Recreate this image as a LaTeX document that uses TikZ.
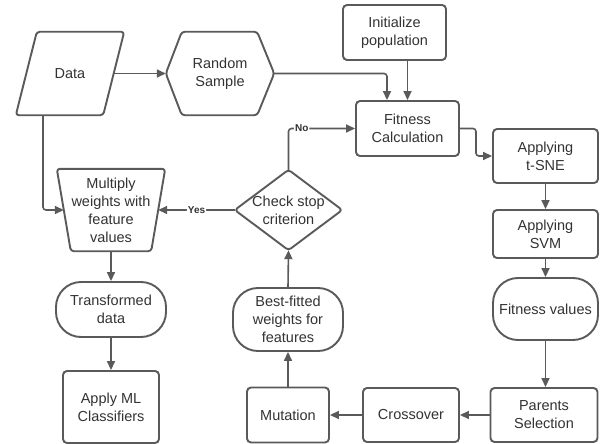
\documentclass[tikz,border=0pt]{standalone}
\usepackage{fontspec}
\setmainfont{Liberation Sans}
\usetikzlibrary{arrows.meta}
\definecolor{ln}{HTML}{5A5A5A}
\definecolor{tx}{HTML}{333333}
\tikzset{
  base/.style={inner sep=0pt, align=center, text=tx, font=\fontsize{14.5}{18}\selectfont},
  box/.style={base, draw=ln, line width=1.9pt, rounded corners=4pt, rectangle},
  stad/.style={base, draw=ln, line width=1.9pt, rounded corners=25pt, rectangle},
  ghost/.style={base, draw=none, rectangle},
  outline/.style={draw=ln, line width=1.9pt, rounded corners=3pt, line join=round},
  conn/.style={draw=ln, line width=1.6pt, rounded corners=3pt, -{Triangle[length=9pt,width=8pt]}},
  lbl/.style={fill=white, text=tx, inner sep=1pt, font=\bfseries\fontsize{10}{12}\selectfont}
}
\begin{document}
\begin{tikzpicture}[x=1pt,y=-1pt]
\useasboundingbox (0,0) rectangle (600,444);
\fill[white] (0,0) rectangle (600,444);

% shapes drawn manually
\node[ghost, minimum width=87pt, minimum height=83pt] (data) at (70,73.5) {Data};
\draw[outline] ([xshift=10.5pt]data.north west) -- ([xshift=10.5pt]data.north east)
  -- ([xshift=-10.5pt]data.south east) -- ([xshift=-10.5pt]data.south west) -- cycle;

\node[ghost, minimum width=108pt, minimum height=83pt] (rs) at (220,73.5) {Random\\Sample};
\draw[outline] (rs.west) -- ([xshift=16pt]rs.north west) -- ([xshift=-17pt]rs.north east)
  -- (rs.east) -- ([xshift=-17pt]rs.south east) -- ([xshift=16pt]rs.south west) -- cycle;

\node[ghost, minimum width=108pt, minimum height=82pt] (mw) at (111,210) {Multiply\\weights with\\feature\\values};
\draw[outline] (mw.north west) -- (mw.north east) -- ([xshift=-14pt]mw.south east)
  -- ([xshift=14pt]mw.south west) -- cycle;

\node[ghost, minimum width=107pt, minimum height=80pt] (cs) at (288.5,210) {Check stop\\criterion};
\draw[outline] (cs.north) -- (cs.east) -- (cs.south) -- (cs.west) -- cycle;

% boxes
\node[box, minimum width=103pt, minimum height=55pt] (init) at (394.5,32.5) {Initialize\\population};
\node[box, minimum width=103pt, minimum height=55pt] (fit) at (407.5,128.5) {Fitness\\Calculation};
\node[box, minimum width=105pt, minimum height=54pt] (tsne) at (545.5,156) {Applying\\t-SNE};
\node[box, minimum width=105pt, minimum height=48pt] (svm) at (545.5,234) {Applying\\SVM};
\node[stad, minimum width=105pt, minimum height=62pt] (fv) at (545.5,309) {Fitness values};
\node[box, minimum width=107pt, minimum height=54pt] (ps) at (544,415) {Parents\\Selection};
\node[box, minimum width=96pt, minimum height=54pt] (co) at (411,415) {Crossover};
\node[box, minimum width=82pt, minimum height=55pt] (mu) at (288,415) {Mutation};
\node[stad, minimum width=110pt, minimum height=63pt] (bf) at (288,319.5) {Best-fitted\\weights for\\features};
\node[stad, minimum width=110pt, minimum height=55pt] (td) at (111,309.5) {Transformed\\data};
\node[box, minimum width=96pt, minimum height=72pt] (ml) at (111,407) {Apply ML\\Classifiers};

% helper coordinates
\coordinate (datab) at ([xshift=-27pt]data.south);
\coordinate (mwl) at ([xshift=7pt]mw.west);
\coordinate (mwr) at ([xshift=-7pt]mw.east);
\coordinate (fitin) at ([xshift=-20.5pt]fit.north);

% connectors
\draw[conn] (data.east) -- (rs.west);
\draw[conn] (rs.east) -| (fitin);
\draw[conn] (fit.north |- init.south) -- (fit.north);
\draw[conn] (fit.east) -- ++(16,0) |- (tsne.west);
\draw[conn] (tsne.south) -- (svm.north);
\draw[conn] (svm.south) -- (fv.north);
\draw[conn] (fv.south) -- (fv.south |- ps.north);
\draw[conn] (ps.west) -- (co.east);
\draw[conn] (co.west) -- (mu.east);
\draw[conn] (mu.north) -- (bf.south);
\draw[conn] (bf.north) -- (cs.south);
\draw[conn] (cs.north) |- node[lbl, pos=0.6] {No} (fit.west);
\draw[conn] (cs.west) -- node[lbl, pos=0.5] {Yes} (mwr);
\draw[conn] (datab) |- (mwl);
\draw[conn] (mw.south) -- (td.north);
\draw[conn] (td.south) -- (ml.north);
\end{tikzpicture}
\end{document}
